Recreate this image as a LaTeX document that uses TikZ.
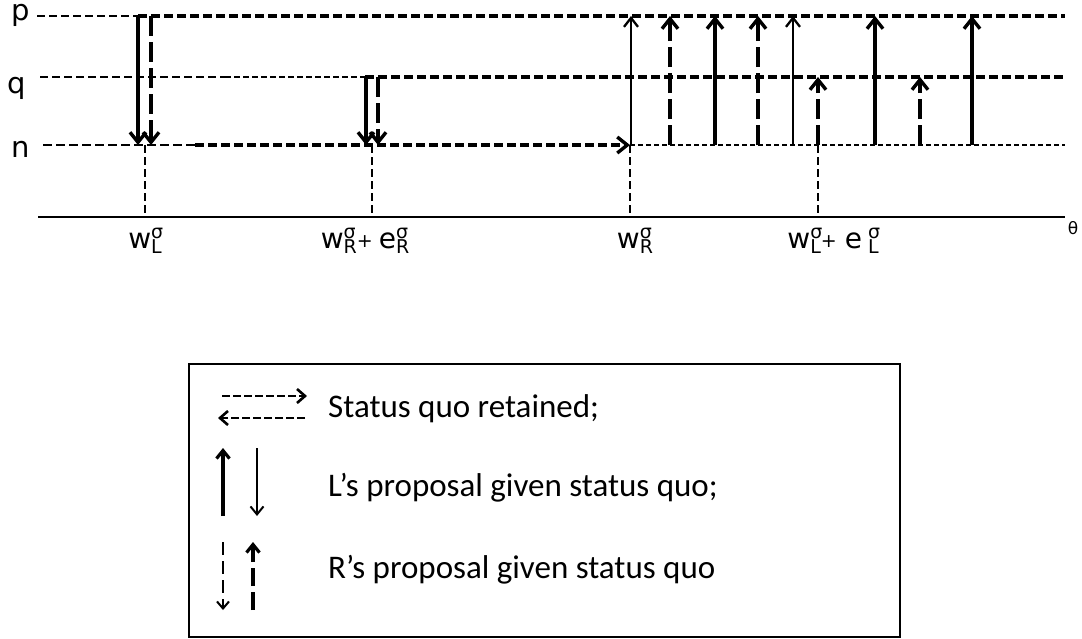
\documentclass[tikz,border=0pt]{standalone}
\usepackage{fontspec}
\setmainfont{DejaVu Sans}
\newfontfamily\legfont{Carlito}
\usetikzlibrary{arrows.meta}

% small stacked super/subscript pair
\newcommand\supsz{\fontsize{19}{19}\selectfont}
\newcommand\stackss[2]{\makebox[0pt][l]{\raisebox{10pt}{\supsz #1}}\raisebox{-5pt}{\supsz #2}}

\tikzset{
  lvlbl/.style={font=\fontsize{29}{29}\selectfont, inner sep=0pt, anchor=base},
  axlbl/.style={font=\fontsize{28}{28}\selectfont, inner sep=0pt, anchor=base},
  levthick/.style={line width=3.4pt, dash pattern=on 9pt off 4pt},
  levthin/.style={line width=1.5pt, dash pattern=on 8pt off 4pt},
  levfaint/.style={line width=1.1pt, dash pattern=on 6pt off 3pt},
  levdot/.style={line width=1.4pt, dash pattern=on 5pt off 3pt},
  drop/.style={line width=1.3pt, dash pattern=on 8pt off 4pt},
  tipbig/.style={-{Straight Barb[length=10pt,width=16pt]}},
  Lmove/.style={line width=3.4pt, tipbig},
  Lthin/.style={line width=2.3pt, -{Straight Barb[length=9pt,width=14pt]}},
  Rmove/.style={line width=3.4pt, dash pattern=on 20pt off 6pt, tipbig},
  sqmove/.style={line width=3.4pt, dash pattern=on 9pt off 4pt, tipbig},
  legsq/.style={line width=2.6pt, dash pattern=on 8pt off 3pt, -{Straight Barb[length=8pt,width=14pt]}},
  legtxt/.style={font=\legfont\fontsize{33}{33}\selectfont, inner sep=0pt, anchor=base west},
}

\begin{document}
\begin{tikzpicture}[x=1pt,y=-1pt]
\useasboundingbox (0,0) rectangle (1082,638);

% level names
\node[lvlbl] (lp) at (21,20) {p};
\node[lvlbl] (lq) at (17,93) {q};
\node[lvlbl] (ln) at (21,157) {n};

% level lines
\coordinate (p0) at (37,16);  \coordinate (p1) at (138,16);  \coordinate (pE) at (1065,16);
\coordinate (q0) at (40,77);  \coordinate (q1) at (225,77);  \coordinate (q2) at (365,77);
\coordinate (qE) at (1065,77);
\coordinate (n0) at (43,145); \coordinate (n1) at (195,145); \coordinate (nR) at (630,145);
\coordinate (nE) at (1065,145);
\draw[levthin]  (p0) -- (p1);
\draw[levthick] (p1) -- (pE);
\draw[levthin]  (q0) -- (q1);
\draw[levfaint] (q1) -- (q2);
\draw[levthick] (q2) -- (qE);
\draw[line width=2.5pt, dash pattern=on 9pt off 4pt] (n0) -- (n1);
\draw[sqmove]   (n1) -- (nR);
\draw[levdot]   (nR) -- (nE);

% theta axis
\coordinate (a0) at (38,217); \coordinate (aE) at (1065,217);
\draw[line width=1.8pt] (a0) -- (aE);
\node[font=\fontsize{17}{17}\selectfont, inner sep=0pt] (theta) at (1073,228) {θ};

% drop lines to the axis
\foreach \x in {145,372,630,818} {
  \coordinate (d\x t) at (\x,145);
  \coordinate (d\x b) at (\x,217);
  \draw[drop] (d\x t) -- (d\x b);
}

% downward moves
\foreach \x/\y/\s in {138/16/Lmove, 151/16/Rmove, 366/77/Lmove, 378/77/Rmove} {
  \coordinate (m\x s) at (\x,\y);
  \coordinate (m\x e) at (\x,145);
  \draw[\s] (m\x s) -- (m\x e);
}

% upward moves
\foreach \x/\y/\s in {631/16/Lthin, 670/16/Rmove, 715/16/Lmove, 758/16/Rmove,
                      793/16/Lthin, 818/77/Rmove, 875/16/Lmove, 920/77/Rmove, 972/16/Lmove} {
  \coordinate (u\x s) at (\x,145);
  \coordinate (u\x e) at (\x,\y);
  \draw[\s] (u\x s) -- (u\x e);
}

% axis labels
\node[axlbl] (wL)  at (145,248) {w\stackss{σ}{L}};
\node[axlbl] (wRe) at (365,248) {w\stackss{σ}{R}\raisebox{1pt}{\supsz+}\hspace{6pt}e\stackss{σ}{R}};
\node[axlbl] (wR)  at (635,248) {w\stackss{σ}{R}};
\node[axlbl] (wLe) at (833,248) {w\stackss{σ}{L}\raisebox{1pt}{\supsz+}\hspace{8pt}e\hspace{6pt}\stackss{σ}{L}};

% legend
\node[draw, line width=1.8pt, anchor=north west, inner sep=0pt,
      minimum width=711pt, minimum height=273pt] (legend) at (188,363) {};

\coordinate (s1a) at (222,396); \coordinate (s1b) at (307,396);
\coordinate (s2a) at (305,418); \coordinate (s2b) at (218,418);
\draw[legsq] (s1a) -- (s1b);
\draw[legsq] (s2a) -- (s2b);
\node[legtxt] (t1) at (328,417) {Status quo retained;};

\coordinate (l1a) at (223,516); \coordinate (l1b) at (223,448);
\coordinate (l2a) at (257,448); \coordinate (l2b) at (257,516);
\draw[line width=3.2pt, -{Straight Barb[length=8pt,width=13pt]}] (l1a) -- (l1b);
\draw[line width=2pt, -{Straight Barb[length=8pt,width=13pt]}] (l2a) -- (l2b);
\node[legtxt] (t2) at (328,496) {L’s proposal given status quo;};

\coordinate (r1a) at (223,542); \coordinate (r1b) at (223,610);
\coordinate (r2a) at (253,610); \coordinate (r2b) at (253,542);
\draw[line width=2pt, dash pattern=on 13pt off 6pt, -{Straight Barb[length=7pt,width=12pt]}] (r1a) -- (r1b);
\draw[line width=3.2pt, dash pattern=on 18pt off 6pt, -{Straight Barb[length=8pt,width=13pt]}] (r2a) -- (r2b);
\node[legtxt] (t3) at (328,578) {R’s proposal given status quo};
\end{tikzpicture}
\end{document}
